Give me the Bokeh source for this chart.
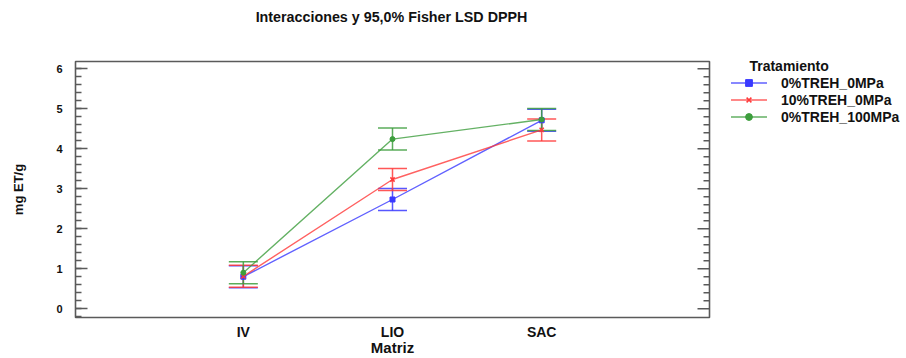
import numpy as np
from bokeh.plotting import figure
from bokeh.layouts import row, column
from bokeh.core.properties import value
from bokeh.models import (Range1d, FixedTicker, SingleIntervalTicker,
                          Legend, LegendItem, Whisker, ColumnDataSource, TeeHead)
from bokeh.embed import file_html
from bokeh.resources import INLINE

# ---- data ----
title_text = "Interacciones y 95,0% Fisher LSD DPPH"
categories = ["IV", "LIO", "SAC"]
x_pos = [1, 2, 3]
treatments = ["0%TREH_0MPa", "10%TREH_0MPa", "0%TREH_100MPa"]
mean_0treh_0mpa = [0.80, 2.73, 4.71]
mean_10treh_0mpa = [0.81, 3.23, 4.47]
mean_0treh_100mpa = [0.90, 4.24, 4.73]
lsd_half_width = [0.275, 0.275, 0.275]
y_ticks = [0, 1, 2, 3, 4, 5, 6]

FONT = "Liberation Sans"
FRAME = "#5a5a5a"
X0, X1 = -0.125, 4.125
FRAME_W = 634
B_LEFT, B_RIGHT, B_TOP, B_BOTTOM = 75, 22, 29, 39
FRAME_H = 258
P_W = B_LEFT + FRAME_W + B_RIGHT
P_H = B_TOP + FRAME_H + B_BOTTOM
TITLE_H = 32
TOTAL_W = 905

# ---- title strip ----
tf = figure(width=2 * (B_LEFT + FRAME_W // 2) - 2, height=TITLE_H, output_backend="svg",
            toolbar_location=None, x_axis_type=None, y_axis_type=None,
            x_range=Range1d(0, 1), y_range=Range1d(0, 1), min_border=0,
            outline_line_color=None, border_fill_color="white")
tf.xgrid.visible = False
tf.ygrid.visible = False
tf.text(x=[0.5], y=[0.5], text=[title_text], text_align="center",
        text_baseline="middle", text_font=value(FONT), text_font_size="14.3px",
        text_font_style="bold", text_color="#111111")

# ---- main plot ----
p = figure(width=P_W, height=P_H, output_backend="svg", toolbar_location=None,
           x_range=Range1d(X0, X1), y_range=Range1d(-0.22, 6.18),
           min_border_left=B_LEFT, min_border_right=B_RIGHT, min_border_top=B_TOP,
           min_border_bottom=B_BOTTOM, background_fill_color="white",
           border_fill_color="white")
p.xgrid.visible = False
p.ygrid.visible = False
p.outline_line_color = FRAME
p.outline_line_width = 1.6

xa = p.xaxis[0]
xa.ticker = FixedTicker(ticks=x_pos)
xa.major_label_overrides = {x: c for x, c in zip(x_pos, categories)}
xa.axis_line_color = None
xa.major_tick_in = 0
xa.major_tick_out = 0
xa.minor_tick_line_color = None
xa.major_label_text_font = FONT
xa.major_label_text_font_size = "14px"
xa.major_label_text_font_style = "bold"
xa.major_label_text_color = "#111111"
xa.major_label_standoff = 6
xa.axis_label = "Matriz"
xa.axis_label_text_font = FONT
xa.axis_label_text_font_size = "15px"
xa.axis_label_text_font_style = "bold"
xa.axis_label_text_color = "#111111"
xa.axis_label_standoff = -4

ya = p.yaxis[0]
ya.ticker = SingleIntervalTicker(interval=1, num_minor_ticks=5)
ya.axis_line_color = None
ya.major_tick_in = 12
ya.major_tick_out = 0
ya.minor_tick_in = 6
ya.minor_tick_out = 0
ya.major_tick_line_color = FRAME
ya.minor_tick_line_color = FRAME
ya.major_tick_line_width = 1.5
ya.minor_tick_line_width = 1.5
ya.major_label_text_font = FONT
ya.major_label_text_font_size = "11px"
ya.major_label_text_font_style = "bold"
ya.major_label_text_color = "#111111"
ya.major_label_standoff = 13
ya.axis_label = "mg ET/g"
ya.axis_label_text_font = FONT
ya.axis_label_text_font_size = "13px"
ya.axis_label_text_font_style = "bold"
ya.axis_label_text_color = "#111111"
ya.axis_label_standoff = 27

# mirrored inward ticks on the right edge of the frame
px_per_unit = FRAME_W / (X1 - X0)
major_y = np.array(y_ticks, dtype=float)
minor_y = np.array([t + k * 0.2 for t in y_ticks[:-1] for k in range(1, 5)])
p.segment(x0=X1 - 12 / px_per_unit, x1=X1, y0=major_y, y1=major_y,
          line_color=FRAME, line_width=1.5)
p.segment(x0=X1 - 6 / px_per_unit, x1=X1, y0=minor_y, y1=minor_y,
          line_color=FRAME, line_width=1.5)

# ---- legend strip (no title panel, so its frame spans the full height) ----
LF_W = TOTAL_W - P_W
lf = figure(width=LF_W, height=P_H, output_backend="svg", title=None,
            toolbar_location=None, x_axis_type=None, y_axis_type=None,
            x_range=Range1d(100, 101), y_range=Range1d(100, 101),
            min_border=0, outline_line_color=None,
            background_fill_color="white", border_fill_color="white")
lf.xgrid.visible = False
lf.ygrid.visible = False

series = [
    (treatments[0], mean_0treh_0mpa, "#3a3aff", "square", 5),
    (treatments[1], mean_10treh_0mpa, "#ff3a3a", "x", 6),
    (treatments[2], mean_0treh_100mpa, "#3d9e3d", "circle", 5),
]

items = []
for name, vals, col, mk, sz in series:
    src = ColumnDataSource(dict(
        x=x_pos, y=vals,
        lower=[v - h for v, h in zip(vals, lsd_half_width)],
        upper=[v + h for v, h in zip(vals, lsd_half_width)]))
    p.line("x", "y", source=src, line_color=col, line_width=1.4, line_alpha=0.8)
    w = Whisker(base="x", lower="lower", upper="upper", source=src, dimension="height",
                line_color=col, line_width=1.5, line_alpha=0.85,
                lower_head=TeeHead(size=29, line_color=col, line_width=1.5, line_alpha=0.85),
                upper_head=TeeHead(size=29, line_color=col, line_width=1.5, line_alpha=0.85))
    p.add_layout(w)
    if mk == "x":
        p.scatter("x", "y", source=src, marker=mk, size=sz, line_color=col, line_width=1.5)
    else:
        p.scatter("x", "y", source=src, marker=mk, size=sz, line_color=col, fill_color=col)
    # legend proxies in the legend strip (same data, outside its visible range)
    ln2 = lf.line("x", "y", source=src, line_color=col, line_width=1.4, line_alpha=0.8)
    if mk == "x":
        m2 = lf.scatter("x", "y", source=src, marker=mk, size=sz, line_color=col, line_width=1.5)
    else:
        m2 = lf.scatter("x", "y", source=src, marker=mk, size=sz, line_color=col, fill_color=col)
    items.append(LegendItem(label=name, renderers=[ln2, m2]))

legend = Legend(items=items, title="\u00a0" * 5 + "Tratamiento",
                title_text_font=FONT, title_text_font_size="14px",
                title_text_font_style="bold", title_text_color="#111111",
                title_standoff=0,
                label_text_font=FONT, label_text_font_size="14px",
                label_text_font_style="bold", label_text_color="#111111",
                glyph_width=37, glyph_height=17, label_height=17,
                label_standoff=14, spacing=0, padding=4, margin=0,
                border_line_color=None, background_fill_alpha=0,
                location=(-1, 192))
lf.add_layout(legend)

layout = column(tf, row(p, lf, spacing=0), spacing=0)
open("out.html", "w").write(file_html(layout, INLINE))
